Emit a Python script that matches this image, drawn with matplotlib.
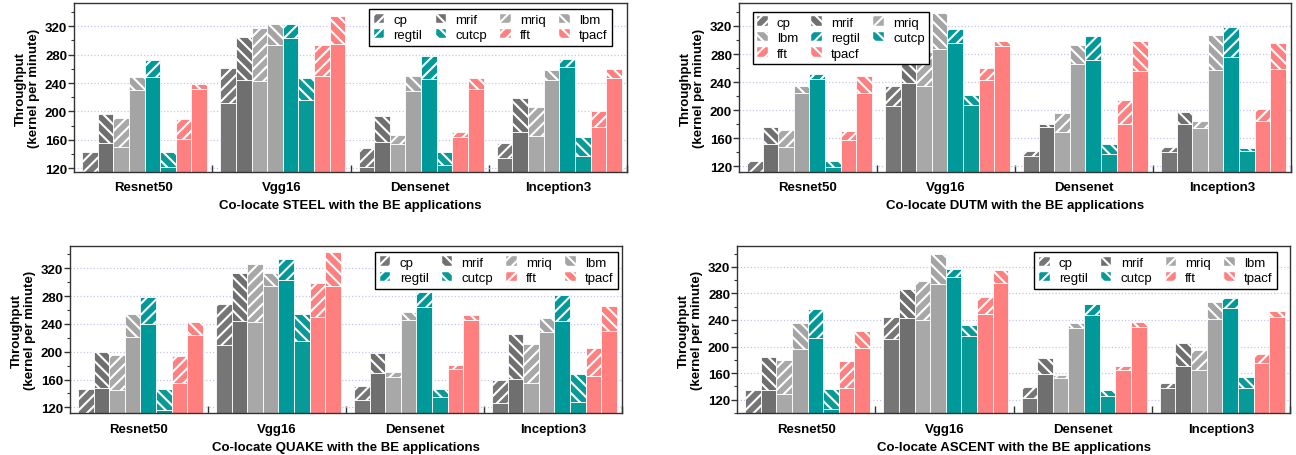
import matplotlib
matplotlib.use('Agg')
import matplotlib.pyplot as plt
import numpy as np
from matplotlib.patches import Patch
from matplotlib.ticker import FixedLocator, MultipleLocator

plt.rcParams['font.family'] = ['Liberation Sans', 'DejaVu Sans']
plt.rcParams['hatch.linewidth'] = 1.5

models = ['Resnet50', 'Vgg16', 'Densenet', 'Inception3']
apps = ['cp', 'mrif', 'mriq', 'lbm', 'regtil', 'cutcp', 'fft', 'tpacf']
colors = ['#767676', '#6f6f6f', '#a8a8a8', '#a4a4a4',
          '#009999', '#079a97', '#ff8080', '#ff7f7f']
hatches = ['///', '\\\\\\', '///', '\\\\\\', '///', '\\\\\\', '///', '\\\\\\']

# top of each bar (whole throughput) and where the hatched part starts
steel_top = [[142.6, 196.2, 191.0, 248.5, 273.0, 142.6, 189.6, 238.0],
             [261.6, 305.0, 317.6, 323.8, 323.8, 247.0, 294.0, 334.6],
             [148.2, 193.4, 166.6, 250.0, 278.0, 142.6, 170.8, 246.6],
             [155.3, 219.3, 206.0, 258.8, 274.4, 164.7, 200.0, 260.2]]
steel_low = [[110.0, 155.3, 150.6, 230.6, 248.5, 121.4, 161.4, 231.0],
             [212.0, 243.8, 242.4, 293.0, 303.5, 215.5, 249.4, 295.5],
             [121.4, 157.6, 154.4, 228.2, 246.0, 124.7, 163.8, 232.0],
             [134.1, 170.8, 166.0, 243.8, 262.6, 137.9, 177.9, 247.0]]

dutm_top = [[127.6, 176.3, 171.5, 234.4, 251.6, 127.6, 170.0, 248.7],
            [234.0, 270.5, 283.0, 339.0, 316.0, 221.0, 260.0, 299.0],
            [141.5, 181.0, 196.0, 292.6, 306.0, 152.4, 214.9, 298.3],
            [147.0, 196.8, 184.8, 306.9, 318.0, 146.7, 201.0, 295.0]]
dutm_low = [[110.0, 151.5, 147.7, 224.9, 244.0, 119.5, 157.7, 224.9],
            [205.3, 239.2, 234.4, 287.8, 296.4, 207.7, 243.5, 291.0],
            [135.0, 176.0, 168.6, 266.4, 272.0, 137.6, 180.5, 255.4],
            [141.0, 180.0, 174.3, 257.8, 275.9, 142.4, 185.3, 259.2]]

quake_top = [[146.0, 200.0, 194.8, 254.3, 278.3, 146.4, 194.3, 243.3],
             [268.2, 312.8, 325.8, 313.8, 333.0, 254.3, 299.4, 343.0],
             [151.2, 197.7, 170.4, 256.7, 285.5, 146.4, 180.4, 252.9],
             [159.3, 225.5, 210.6, 248.0, 282.0, 168.0, 205.4, 265.8]]
quake_low = [[105.0, 147.8, 145.4, 220.7, 240.0, 116.0, 154.5, 224.0],
             [210.2, 244.7, 242.3, 295.0, 303.2, 215.0, 249.5, 295.0],
             [130.6, 168.9, 163.2, 246.1, 263.9, 134.4, 175.2, 246.1],
             [125.8, 161.2, 155.0, 227.9, 243.7, 128.2, 164.6, 230.3]]

ascent_top = [[135.0, 184.8, 180.3, 235.0, 256.2, 135.6, 178.8, 223.5],
              [245.0, 286.3, 299.0, 340.0, 316.0, 232.6, 274.3, 314.5],
              [139.6, 183.3, 157.7, 236.0, 263.7, 134.6, 171.3, 237.6],
              [145.6, 206.0, 194.4, 267.0, 273.3, 154.7, 188.3, 253.7]]
ascent_low = [[95.0, 134.6, 128.0, 196.9, 213.5, 105.4, 138.0, 197.4],
              [212.0, 243.6, 240.6, 293.9, 305.0, 216.0, 249.6, 294.9],
              [123.0, 158.2, 152.2, 228.5, 247.6, 125.5, 164.2, 229.5],
              [137.0, 170.8, 164.7, 241.1, 258.7, 137.0, 174.8, 244.6]]

# name, tops, lows, ylim, axes rect, legend ncol, legend order, loc, anchor
panels = [
    ('STEEL', steel_top, steel_low, (115.3, 352), [0.0571, 0.6213, 0.4267, 0.3689],
     4, [0, 4, 1, 5, 2, 6, 3, 7], 'upper right', (0.973, 0.967)),
    ('DUTM', dutm_top, dutm_low, (112.4, 352), [0.5702, 0.6213, 0.4259, 0.3689],
     3, [0, 3, 6, 1, 4, 7, 2, 5], 'upper left', (0.0245, 0.951)),
    ('QUAKE', quake_top, quake_low, (111.4, 352.6), [0.0540, 0.0914, 0.4259, 0.3675],
     4, [0, 4, 1, 5, 2, 6, 3, 7], 'upper right', (0.993, 0.964)),
    ('ASCENT', ascent_top, ascent_low, (99.4, 351.7), [0.5687, 0.0914, 0.4267, 0.3675],
     4, [0, 4, 1, 5, 2, 6, 3, 7], 'upper right', (0.977, 0.962)),
]

fig = plt.figure(figsize=(12.96, 4.56), dpi=100)

bw = 0.113
xg = np.arange(len(models))

for name, tops, lows, ylim, rect, ncol, order, loc, anchor in panels:
    ax = fig.add_axes(rect)
    tops = np.array(tops)
    lows = np.array(lows)
    for j in range(len(apps)):
        xs = xg + (j - 3.5) * bw + 0.01
        ax.bar(xs, lows[:, j], bw, color=colors[j], edgecolor='white', linewidth=0.6, zorder=2)
        ax.bar(xs, tops[:, j] - lows[:, j], bw, bottom=lows[:, j], color=colors[j],
               edgecolor='white', linewidth=0.6, hatch=hatches[j], zorder=2)

    ax.set_xlim(-0.5, 3.5)
    ax.set_ylim(*ylim)
    ax.set_xticks(xg)
    ax.set_xticklabels(models, fontsize=9.5, fontweight='bold')
    ax.xaxis.set_minor_locator(FixedLocator([0.5, 1.5, 2.5, 3.5]))
    ax.tick_params(axis='x', which='major', length=0, pad=7)
    ax.tick_params(axis='x', which='minor', direction='in', length=5, width=1, color='#333333')

    ax.yaxis.set_major_locator(FixedLocator(list(range(120, 321, 40))))
    ax.yaxis.set_minor_locator(MultipleLocator(20))
    ax.tick_params(axis='y', which='major', direction='out', length=4, width=1, pad=1,
                   labelsize=9.5, color='#333333')
    ax.tick_params(axis='y', which='minor', direction='out', length=2.5, width=0.8, color='#333333')
    for lab in ax.get_yticklabels():
        lab.set_fontweight('bold')

    ax.yaxis.grid(True, which='major', linestyle=':', color='#c4c4f0', linewidth=0.9)
    ax.set_axisbelow(True)
    for sp in ax.spines.values():
        sp.set_linewidth(1.0)
        sp.set_color('#333333')

    ax.set_ylabel('Throughput\n(kernel per minute)', fontsize=9.5, fontweight='bold', linespacing=1.1)
    ax.yaxis.set_label_coords(-0.0615, 0.5)
    ax.set_xlabel('Co-locate %s with the BE applications' % name, fontsize=9.5,
                  fontweight='bold', labelpad=4)

    handles = [Patch(facecolor=colors[k], edgecolor='white', linewidth=0.3,
                     hatch=hatches[k], label=apps[k]) for k in order]
    leg = ax.legend(handles=handles, ncol=ncol, loc=loc, bbox_to_anchor=anchor,
                    borderaxespad=0, fancybox=False, edgecolor='black', framealpha=1,
                    fontsize=9.5, handlelength=0.8, handleheight=0.7, handletextpad=0.7,
                    columnspacing=1.0, labelspacing=0.25, borderpad=0.35)
    leg.get_frame().set_linewidth(1.0)

fig.savefig('out.png', dpi=100)
